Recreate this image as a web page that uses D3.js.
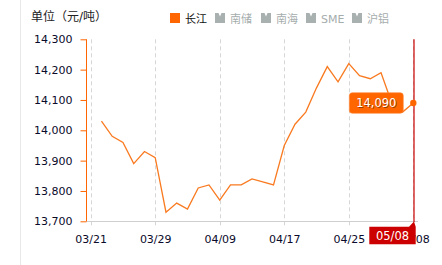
<!DOCTYPE html>
<html>
<head>
<meta charset="utf-8">
<script src="https://cdn.jsdelivr.net/npm/d3@7/dist/d3.min.js"></script>
<style>
  html, body { margin: 0; padding: 0; background: #fff; }
  svg { display: block; font-family: "DejaVu Sans", "Noto Sans CJK SC", sans-serif; }
</style>
</head>
<body>
<svg id="chart" width="442" height="265"></svg>
<script>
// Trading days (2019) and Changjiang aluminium spot price, yuan per tonne
const dates = ["03/21","03/22","03/25","03/26","03/27","03/28","03/29","04/01","04/02","04/03",
               "04/04","04/08","04/09","04/10","04/11","04/12","04/15","04/16","04/17","04/18",
               "04/19","04/22","04/23","04/24","04/25","04/26","04/29","04/30","05/06","05/07","05/08"];
const changjiang = [null,14030,13980,13960,13890,13930,13910,13730,13760,13740,
                    13810,13820,13770,13820,13820,13840,13830,13820,13950,14020,
                    14060,14140,14210,14160,14220,14180,14170,14190,14090,14060,14090];
const yTicks = [13700,13800,13900,14000,14100,14200,14300];
const legendItems = ["长江","南储","南海","SME","沪铝"];
const activeIndex = 30;

const svg = d3.select("#chart");
const orange = "#ff6600";
const lineColor = "#f97a20";
const red = "#cc0000";

const x = d3.scalePoint().domain(dates).range([90.7, 413.3]);
const y = d3.scaleLinear().domain([13700, 14300]).range([221.3, 39.3]);

// left frame line
svg.append("line").attr("x1", 20.5).attr("x2", 20.5).attr("y1", 0).attr("y2", 265)
  .attr("stroke", "#e8e8e8");

// title
svg.append("text").attr("x", 31).attr("y", 21).attr("font-size", 12).attr("fill", "#222")
  .text("单位（元/吨）");

// legend
const legendX = [170, 215, 261, 306, 352];
legendItems.forEach((name, i) => {
  const g = svg.append("g").attr("transform", `translate(${legendX[i]},13)`);
  if (i === 0) {
    g.append("rect").attr("width", 10).attr("height", 10).attr("fill", orange);
  } else {
    g.append("path").attr("d", "M0,0 L3.5,0 L5,3.5 L6.5,0 L10,0 L10,10 L0,10 Z").attr("fill", "#a9b0b0");
  }
  g.append("text").attr("x", 15).attr("y", 9.5).attr("font-size", 11)
    .attr("fill", i === 0 ? "#111" : "#a6adad").text(name);
});

// vertical dashed grid at labelled categories
const labelled = dates.filter((d, i) => i % 6 === 0);
svg.append("g").selectAll("line").data(labelled).join("line")
  .attr("x1", d => Math.round(x(d)) + 0.5).attr("x2", d => Math.round(x(d)) + 0.5)
  .attr("y1", y(14300)).attr("y2", 226)
  .attr("stroke", "#d6d6d6").attr("stroke-dasharray", "4,3");

// x baseline
svg.append("line").attr("x1", 86).attr("x2", 418).attr("y1", 221.5).attr("y2", 221.5)
  .attr("stroke", "#cfcfcf");

// y axis
const yAxis = d3.axisLeft(y).tickValues(yTicks).tickSize(6).tickPadding(8)
  .tickFormat(d3.format(","));
const ya = svg.append("g").attr("transform", "translate(86.5,0)").call(yAxis);
ya.select(".domain").attr("stroke", orange).attr("d", `M-0,${y(14300)}V${y(13700)}`);
ya.selectAll(".tick line").attr("stroke", orange);
ya.selectAll(".tick text").attr("font-size", 11).attr("fill", "#0a0a2a")
  .attr("font-family", "DejaVu Sans");

// x axis labels
const xAxis = d3.axisBottom(x).tickValues(labelled).tickSize(0).tickPadding(14);
const xa = svg.append("g").attr("transform", "translate(0,221.5)").call(xAxis);
xa.select(".domain").remove();
xa.selectAll(".tick text").attr("font-size", 11).attr("fill", "#0a0a2a")
  .attr("font-family", "DejaVu Sans");

// price line
const line = d3.line().defined(d => d != null)
  .x((d, i) => x(dates[i])).y(d => y(d));
svg.append("path").datum(changjiang).attr("d", line)
  .attr("fill", "none").attr("stroke", lineColor).attr("stroke-width", 1.3);

// crosshair at active date
const ax = Math.round(x(dates[activeIndex])) + 1;
svg.append("line").attr("x1", ax).attr("x2", ax).attr("y1", y(14300)).attr("y2", 222)
  .attr("stroke", red).attr("stroke-width", 1.2);

// active point and value box
const av = changjiang[activeIndex];
const px = x(dates[activeIndex]), py = y(av);
svg.append("circle").attr("cx", px).attr("cy", py).attr("r", 3.2).attr("fill", orange);
const bw = 54, bh = 20.6;
const bx = px - 10 - bw, by = py - bh / 2;
svg.append("rect").attr("x", bx).attr("y", by).attr("width", bw).attr("height", bh)
  .attr("rx", 3).attr("fill", orange).attr("stroke", "#ff8c40").attr("stroke-width", 0.6);
const valueText = d3.format(",")(av);
svg.append("text").attr("x", bx + bw / 2 + 0.8).attr("y", by + 15.2).attr("text-anchor", "middle")
  .attr("font-size", 11.5).attr("fill", "rgba(80,30,0,0.6)").text(valueText);
svg.append("text").attr("x", bx + bw / 2).attr("y", by + 14.4).attr("text-anchor", "middle")
  .attr("font-size", 11.5).attr("fill", "#fff").text(valueText);

// date box under the crosshair
const dx0 = 369.3, dy0 = 226.7, dw = 46.4, dh = 17.6;
svg.append("path")
  .attr("d", `M${dx0},${dy0} H${ax - 5} L${ax},${221.5} L${dx0 + dw},${dy0} V${dy0 + dh} H${dx0} Z`)
  .attr("fill", red);
svg.append("text").attr("x", dx0 + dw / 2).attr("y", dy0 + 13.3).attr("text-anchor", "middle")
  .attr("font-size", 11.5).attr("fill", "#fff").text(dates[activeIndex]);
</script>
</body>
</html>
